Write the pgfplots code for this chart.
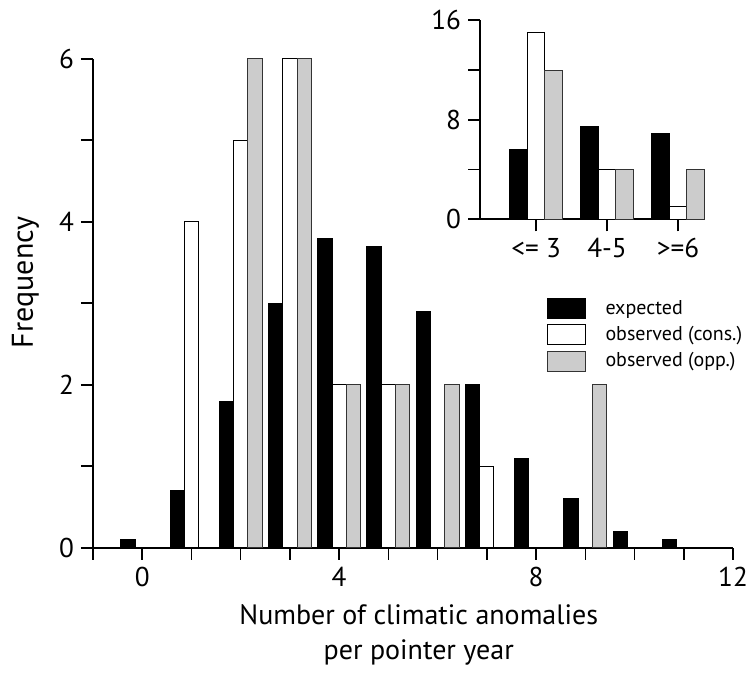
\documentclass[border=0pt]{standalone}
\usepackage{fontspec}
\setmainfont{PT Sans}
\usepackage{pgfplots}
\pgfplotsset{compat=1.18}
\definecolor{bargray}{RGB}{204,204,204}
\pgfplotsset{
  boxlegend/.style={legend image code/.code={\draw[##1,line width=0.5pt] (0pt,-5pt) rectangle (19pt,5pt);}},
  common/.style={
    scale only axis,
    axis x line=bottom, axis y line=left,
    axis line style={-, line width=0.8pt},
    tick align=outside,
    tick style={line width=0.8pt, black},
    major tick length=6pt,
    /pgf/number format/assume math mode=true,
    tick label style={font=\fontsize{13.6}{16}\selectfont},
  }
}
\begin{document}
\begin{tikzpicture}
\begin{axis}[common,
  name=main, at={(0,0)}, anchor=south west,
  width=320pt, height=244.5pt,
  xmin=-1, xmax=12, ymin=0, ymax=6,
  xtick={-1,0,...,12}, xticklabels={,0,,,,4,,,,8,,,,12},
  ytick={0,...,6}, yticklabels={0,,2,,4,,6},
  xlabel={Number of climatic anomalies\\per pointer year},
  xlabel style={font=\fontsize{14}{17.5}\selectfont, align=center, inner sep=0pt,
    at={(axis description cs:0.509,0)}, anchor=north, yshift=-28pt},
  ylabel={Frequency},
  ylabel style={font=\fontsize{15}{18}\selectfont, inner sep=0pt,
    at={(axis description cs:-0.094,0.543)}, anchor=base, rotate=0},
  legend style={at={(0.708,0.515)}, anchor=north west, draw=none, fill=none,
    font=\fontsize{10}{12}\selectfont, row sep=0.5pt, inner sep=0pt,
    /tikz/every odd column/.append style={column sep=8pt}},
  legend cell align=left,
]
\addplot[ybar, bar width=0.29, bar shift=-0.29, fill=black, draw=black, line width=0.5pt, boxlegend]
  coordinates {(0,0.1)(1,0.7)(2,1.8)(3,3.0)(4,3.8)(5,3.7)(6,2.9)(7,2.0)(8,1.1)(9,0.6)(10,0.2)(11,0.1)};
\addlegendentry{expected}
\addplot[ybar, bar width=0.29, bar shift=0, fill=white, draw=black, line width=0.5pt, boxlegend]
  coordinates {(1,4)(2,5)(3,6)(4,2)(5,2)(7,1)};
\addlegendentry{observed (cons.)}
\addplot[ybar, bar width=0.29, bar shift=0.29, fill=bargray, draw=black!80, line width=0.5pt, boxlegend]
  coordinates {(2,6)(3,6)(4,2)(5,2)(6,2)(9,2)};
\addlegendentry{observed (opp.)}
\end{axis}
\begin{axis}[common,
  at={(193.5pt,164.2pt)}, anchor=south west,
  width=112.5pt, height=99.5pt,
  xmin=0.21, xmax=3.38, ymin=0, ymax=16,
  xtick={1,2,3}, xticklabels={{<= 3},{4-5},{>=6}},
  ytick={0,4,...,16}, yticklabels={0,,8,,16},
]
\addplot[ybar, bar width=0.25, bar shift=-0.25, fill=black, draw=black, line width=0.5pt]
  coordinates {(1,5.6)(2,7.5)(3,6.9)};
\addplot[ybar, bar width=0.25, bar shift=0, fill=white, draw=black, line width=0.5pt]
  coordinates {(1,15)(2,4)(3,1)};
\addplot[ybar, bar width=0.25, bar shift=0.25, fill=bargray, draw=black!80, line width=0.5pt]
  coordinates {(1,12)(2,4)(3,4)};
\end{axis}
\pgfresetboundingbox
\path (-46.5pt,-63.15pt) rectangle (327pt,273.85pt);
\end{tikzpicture}
\end{document}
